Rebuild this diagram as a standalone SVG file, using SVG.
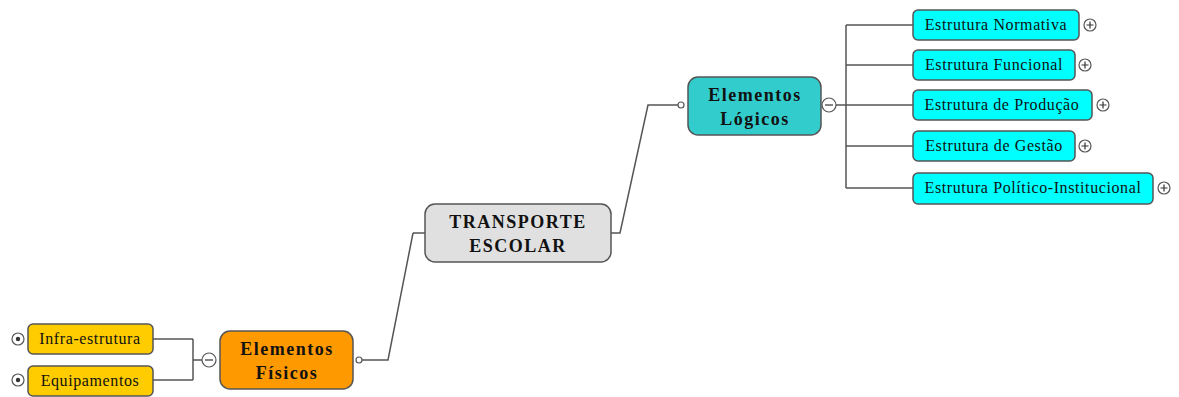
<svg xmlns="http://www.w3.org/2000/svg" width="1179" height="397" viewBox="0 0 1179 397">
<style>
.leaf{stroke:#555;stroke-width:1.5}
.main{stroke:#555;stroke-width:1.5}
.lt{font-family:"Liberation Serif","Times New Roman",serif;font-size:16px;letter-spacing:0.6px;fill:#111;text-anchor:middle}
.mt{font-family:"Liberation Serif","Times New Roman",serif;font-size:18px;font-weight:bold;letter-spacing:1.5px;fill:#111;text-anchor:middle}
.con{fill:none;stroke:#555;stroke-width:1.5}
.btn{fill:#fff;stroke:#555;stroke-width:1.2}
.sym{stroke:#333;stroke-width:1.2}
</style>
<rect width="1179" height="397" fill="#fff"/>
<g id="connectors">
<path class="con" d="M413,233 L425,233 M413,233 L388,360 L362,360"/>
<path class="con" d="M611,233 L620,233 L648,105 L678,105"/>
<path class="con" d="M836,105 L913,105 M846,25 L846,188 M846,25 L913,25 M846,65 L913,65 M846,146 L913,146 M846,188 L913,188"/>
<path class="con" d="M202,360 L193,360 M193,339 L193,380 M153,339 L193,339 M153,380 L193,380"/>
</g>
<g id="transporte">
<rect class="main" x="425" y="204" width="186" height="58" rx="10" fill="#e0e0e0"/>
<text class="mt" x="518" y="228">TRANSPORTE</text>
<text class="mt" x="518" y="252">ESCOLAR</text>
</g>
<g id="logicos">
<rect class="main" x="688" y="77" width="133" height="58" rx="10" fill="#33cccc"/>
<text class="mt" x="755" y="101">Elementos</text>
<text class="mt" x="755" y="125">Lógicos</text>
<circle class="btn" cx="681" cy="105" r="3"/>
<circle class="btn" cx="829" cy="105" r="7"/>
<line class="sym" x1="825" y1="105" x2="833" y2="105"/>
</g>
<g id="fisicos">
<rect class="main" x="220" y="331" width="133" height="58" rx="10" fill="#ff9900"/>
<text class="mt" x="287" y="355">Elementos</text>
<text class="mt" x="287" y="379">Físicos</text>
<circle class="btn" cx="359" cy="360" r="3"/>
<circle class="btn" cx="209" cy="360" r="7"/>
<line class="sym" x1="205" y1="360" x2="213" y2="360"/>
</g>
<g id="infra">
<rect class="leaf" x="28" y="324" width="125" height="30" rx="5" fill="#ffcc00"/>
<text class="lt" x="90" y="344">Infra-estrutura</text>
<circle class="btn" cx="18" cy="339" r="6"/>
<circle cx="18" cy="339" r="2.2" fill="#333"/>
</g>
<g id="equip">
<rect class="leaf" x="28" y="366" width="125" height="30" rx="5" fill="#ffcc00"/>
<text class="lt" x="90" y="386">Equipamentos</text>
<circle class="btn" cx="18" cy="380" r="6"/>
<circle cx="18" cy="380" r="2.2" fill="#333"/>
</g>
<g id="normativa">
<rect class="leaf" x="913" y="10" width="166" height="30" rx="5" fill="#00ffff"/>
<text class="lt" x="996" y="30">Estrutura Normativa</text>
<circle class="btn" cx="1090" cy="25" r="6"/>
<path class="sym" d="M1086.5,25 H1093.5 M1090,21.5 V28.5"/>
</g>
<g id="funcional">
<rect class="leaf" x="913" y="50" width="162" height="30" rx="5" fill="#00ffff"/>
<text class="lt" x="994" y="70">Estrutura Funcional</text>
<circle class="btn" cx="1085" cy="65" r="6"/>
<path class="sym" d="M1081.5,65 H1088.5 M1085,61.5 V68.5"/>
</g>
<g id="producao">
<rect class="leaf" x="913" y="90" width="179" height="30" rx="5" fill="#00ffff"/>
<text class="lt" x="1002" y="110">Estrutura de Produção</text>
<circle class="btn" cx="1103" cy="105" r="6"/>
<path class="sym" d="M1099.5,105 H1106.5 M1103,101.5 V108.5"/>
</g>
<g id="gestao">
<rect class="leaf" x="913" y="131" width="162" height="30" rx="5" fill="#00ffff"/>
<text class="lt" x="994" y="151">Estrutura de Gestão</text>
<circle class="btn" cx="1085" cy="146" r="6"/>
<path class="sym" d="M1081.5,146 H1088.5 M1085,142.5 V149.5"/>
</g>
<g id="politico">
<rect class="leaf" x="913" y="173" width="240" height="31" rx="5" fill="#00ffff"/>
<text class="lt" x="1033" y="193">Estrutura Político-Institucional</text>
<circle class="btn" cx="1164" cy="188" r="6"/>
<path class="sym" d="M1160.5,188 H1167.5 M1164,184.5 V191.5"/>
</g>
</svg>
